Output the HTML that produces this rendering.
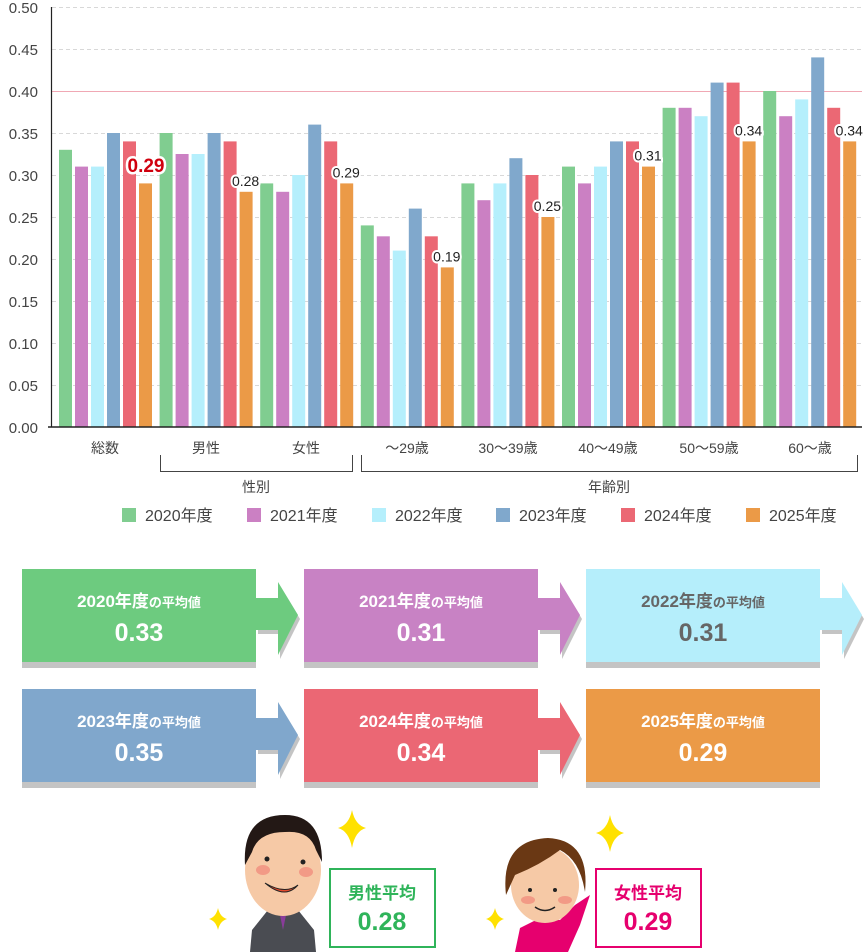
<!DOCTYPE html>
<html><head><meta charset="utf-8"><style>
body{margin:0;background:#fff;}
svg{display:block;font-family:"Liberation Sans","Noto Sans CJK JP",sans-serif;}
</style></head><body>
<svg width="864" height="952" viewBox="0 0 864 952" xmlns="http://www.w3.org/2000/svg">
<g stroke="#d8d8d8" stroke-dasharray="4,3" stroke-width="1">
<line x1="52" x2="862" y1="7.5" y2="7.5"/><line x1="52" x2="862" y1="49.5" y2="49.5"/>
<line x1="52" x2="862" y1="133.5" y2="133.5"/><line x1="52" x2="862" y1="175.5" y2="175.5"/>
<line x1="52" x2="862" y1="217.5" y2="217.5"/><line x1="52" x2="862" y1="259.5" y2="259.5"/>
<line x1="52" x2="862" y1="301.5" y2="301.5"/><line x1="52" x2="862" y1="343.5" y2="343.5"/>
<line x1="52" x2="862" y1="385.5" y2="385.5"/>
</g>
<line x1="52" x2="862" y1="91.5" y2="91.5" stroke="#f0a8b4" stroke-width="1"/>
<g font-size="15" fill="#444" text-anchor="end">
<text x="38" y="13">0.50</text><text x="38" y="55">0.45</text><text x="38" y="97">0.40</text>
<text x="38" y="139">0.35</text><text x="38" y="181">0.30</text><text x="38" y="223">0.25</text>
<text x="38" y="265">0.20</text><text x="38" y="307">0.15</text><text x="38" y="349">0.10</text>
<text x="38" y="391">0.05</text><text x="38" y="433">0.00</text>
</g>
<g id="bars"></g>
<g id="labels"></g>
<line x1="51.5" x2="51.5" y1="7" y2="427" stroke="#222" stroke-width="1.2"/>
<line x1="48" x2="862" y1="427" y2="427" stroke="#222" stroke-width="1.5"/>
<g font-size="14" fill="#444" text-anchor="middle">
<text x="105" y="453">総数</text><text x="206" y="453">男性</text><text x="306" y="453">女性</text>
<text x="407" y="453">～29歳</text><text x="508" y="453">30～39歳</text><text x="608" y="453">40～49歳</text>
<text x="709" y="453">50～59歳</text><text x="810" y="453">60～歳</text>
<text x="256" y="492">性別</text><text x="609" y="492">年齢別</text>
</g>
<path d="M160.5 455V471.5H352.5V455M361.5 455V471.5H857.5V455" fill="none" stroke="#444" stroke-width="1"/>
<g font-size="16" fill="#444">
<rect x="122" y="508" width="14" height="14" fill="#80cd90"/><text x="145" y="521">2020年度</text>
<rect x="247" y="508" width="14" height="14" fill="#cb80c3"/><text x="270" y="521">2021年度</text>
<rect x="372" y="508" width="14" height="14" fill="#b5effc"/><text x="395" y="521">2022年度</text>
<rect x="496" y="508" width="14" height="14" fill="#80a8cc"/><text x="519" y="521">2023年度</text>
<rect x="621" y="508" width="14" height="14" fill="#eb6874"/><text x="644" y="521">2024年度</text>
<rect x="746" y="508" width="14" height="14" fill="#eb9a47"/><text x="769" y="521">2025年度</text>
</g>
<g id="boxes"></g>
<g fill="#ffe100">
<path d="M352 810 Q355 825 366 828 Q355 831 352 848 Q349 831 338 828 Q349 825 352 810Z"/>
<path d="M218 908 Q220 917 227 919 Q220 921 218 930 Q216 921 209 919 Q216 917 218 908Z"/>
<path d="M610 815 Q613 830 624 833 Q613 836 610 852 Q607 836 596 833 Q607 830 610 815Z"/>
<path d="M495 908 Q497 917 504 919 Q497 921 495 930 Q493 921 486 919 Q493 917 495 908Z"/>
</g>
<path d="M250 952 L252 930 L268 910 L298 910 L314 930 L316 952Z" fill="#4a4c52"/>
<path d="M279 910 L283 930 L287 910Z" fill="#8a3c9a"/>
<ellipse cx="283" cy="870" rx="38" ry="46" fill="#f6c9a6"/>
<path d="M245 865 Q242 815 285 815 Q322 815 322 862 L316 850 Q310 830 285 832 Q258 832 252 852Z" fill="#231815"/>
<ellipse cx="263" cy="870" rx="7" ry="5" fill="#f29a86"/><ellipse cx="306" cy="872" rx="7" ry="5" fill="#f29a86"/>
<circle cx="267" cy="859" r="2.5" fill="#222"/><circle cx="303" cy="862" r="2.5" fill="#222"/>
<path d="M265 883 Q285 895 298 885 Q285 900 265 883Z" fill="#e24a2c" stroke="#222"/>
<path d="M515 952 L520 928 L540 918 L560 920 L575 905 L590 895 L580 925 L568 952Z" fill="#e6006e"/>
<ellipse cx="545" cy="885" rx="34" ry="38" fill="#f6c9a6"/>
<path d="M506 895 Q500 840 548 838 Q590 840 585 892 Q580 860 560 850 Q540 865 515 875Z" fill="#6a3814"/>
<ellipse cx="528" cy="900" rx="7" ry="4" fill="#f29a86"/><ellipse cx="565" cy="900" rx="7" ry="4" fill="#f29a86"/>
<circle cx="530" cy="890" r="2" fill="#222"/><circle cx="555" cy="890" r="2" fill="#222"/>
<path d="M535 907 Q545 914 555 907" fill="none" stroke="#222" stroke-width="1.5"/>
<rect x="330" y="869" width="105" height="78" fill="#fff" stroke="#2fb45a" stroke-width="2"/>
<text x="382" y="899" font-size="17" font-weight="bold" fill="#2fb45a" text-anchor="middle">男性平均</text>
<text x="382" y="930" font-size="25" font-weight="bold" fill="#2fb45a" text-anchor="middle">0.28</text>
<rect x="596" y="869" width="105" height="78" fill="#fff" stroke="#e6006e" stroke-width="2"/>
<text x="648" y="899" font-size="17" font-weight="bold" fill="#e6006e" text-anchor="middle">女性平均</text>
<text x="648" y="930" font-size="25" font-weight="bold" fill="#e6006e" text-anchor="middle">0.29</text>
</svg>
<script>
var NS="http://www.w3.org/2000/svg";
var cols=["#80cd90","#cb80c3","#b5effc","#80a8cc","#eb6874","#eb9a47"];
var data=[[.33,.31,.31,.35,.34,.29],[.35,.325,.325,.35,.34,.28],[.29,.28,.30,.36,.34,.29],[.24,.227,.21,.26,.227,.19],[.29,.27,.29,.32,.30,.25],[.31,.29,.31,.34,.34,.31],[.38,.38,.37,.41,.41,.34],[.40,.37,.39,.44,.38,.34]];
var g=document.getElementById("bars"),L=document.getElementById("labels");
function el(t,a,p){var e=document.createElementNS(NS,t);for(var k in a)e.setAttribute(k,a[k]);(p||g).appendChild(e);return e;}
data.forEach(function(d,i){
 var x0=59+100.6*i;
 d.forEach(function(v,j){var h=v*840;el("rect",{x:x0+16*j,y:427-h,width:13,height:h,fill:cols[j]});});
 var v=d[5],y=427-v*840, cx=x0+86;
 var t;
 if(i==0){t=el("text",{x:146,y:172,"font-size":19,"font-weight":"bold",fill:"#d0000e","text-anchor":"middle",stroke:"#fff","stroke-width":5,"paint-order":"stroke"},L);}
 else{t=el("text",{x:cx,y:y-6,"font-size":14,fill:"#222","text-anchor":"middle",stroke:"#fff","stroke-width":4,"paint-order":"stroke"},L);}
 t.textContent=v.toFixed(2);
});
var b=document.getElementById("boxes");
var boxes=[[22,569,"#6dcb7f","2020","0.33","#fff"],[304,569,"#c882c4","2021","0.31","#fff"],[586,569,"#b5eefb","2022","0.31","#666"],[22,689,"#80a7cc","2023","0.35","#fff"],[304,689,"#eb6774","2024","0.34","#fff"],[586,689,"#eb9a47","2025","0.29","#fff"]];
boxes.forEach(function(q,i){
 var x=q[0],y=q[1];
 el("rect",{x:x,y:y+6,width:234,height:93,fill:"#c4c4c4"},b);
 if(i!=5){
  var ap="M"+(x+234)+" "+(y+29)+"H"+(x+256)+"V"+(y+13)+"L"+(x+276)+" "+(y+46)+"L"+(x+256)+" "+(y+86)+"V"+(y+61)+"H"+(x+234)+"Z";
  el("path",{d:ap,fill:"#c4c4c4",transform:"translate(2,4)"},b);
  el("path",{d:ap,fill:q[2]},b);
 }
 el("rect",{x:x,y:y,width:234,height:93,fill:q[2]},b);
 var t=el("text",{x:x+117,y:y+38,"font-size":17,"font-weight":"bold",fill:q[5],"text-anchor":"middle"},b);
 t.innerHTML=q[3]+"年度<tspan font-size=\"13\">の平均値</tspan>";
 var t2=el("text",{x:x+117,y:y+72,"font-size":25,"font-weight":"bold",fill:q[5],"text-anchor":"middle"},b);
 t2.textContent=q[4];
});
</script>
</body></html>
